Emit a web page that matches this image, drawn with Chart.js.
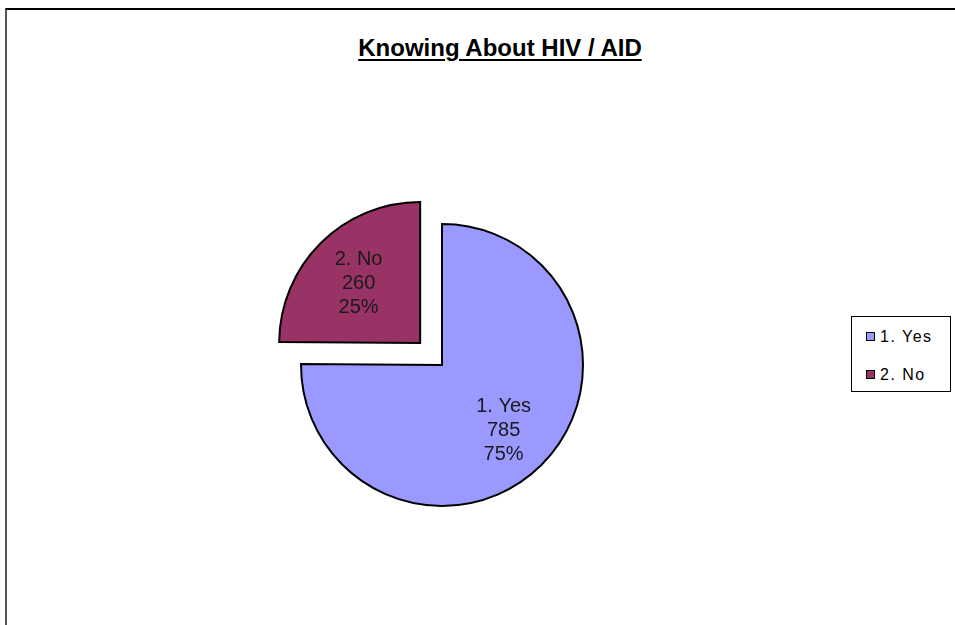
<!DOCTYPE html>
<html>
<head>
<meta charset="utf-8">
<script src="https://cdn.jsdelivr.net/npm/chart.js@4.4.1/dist/chart.umd.min.js"></script>
<style>
    html, body { margin: 0; padding: 0; background: #fff; overflow: hidden; }
    body { width: 955px; height: 625px; position: relative; font-family: "Liberation Sans", Arial, sans-serif; }
    #frame { position: absolute; left: 5px; top: 8px; width: 1000px; height: 700px;
             border-top: 2px solid #000; border-left: 2px solid #555; }
    #chartTitle { position: absolute; left: 0; width: 1000px; top: 34px; text-align: center;
                  font-weight: bold; font-size: 24px; line-height: 28px; text-decoration: underline;
                  text-underline-offset: 3px; text-decoration-thickness: 2px; color: #000; }
    #chartBox { position: absolute; left: 0; top: 0; width: 955px; height: 625px; }
    #legend { position: absolute; left: 851px; top: 316px; width: 100px; height: 76px;
              border: 1px solid #000; background: #fff; box-sizing: border-box; padding-top: 8px; }
    #legend .item { height: 38px; line-height: 24px; font-size: 16px; letter-spacing: 1.5px; color: #000;
                    padding-left: 14px; white-space: nowrap; }
    #legend .swatch { display: inline-block; width: 7px; height: 7px; border: 1px solid #000;
                      margin-right: 5px; vertical-align: 1px; }
</style>
</head>
<body>
<div id="frame"></div>
<div id="chartTitle">Knowing About HIV / AID</div>
<div id="chartBox"><canvas id="pieChart" width="955" height="625"></canvas></div>
<div id="legend"></div>

<script>
// Chart data
const categories = ['1. Yes', '2. No'];
const counts = [785, 260];
const sliceColors = ['#9999FF', '#993366'];
const sliceOffsets = [0, 124]; // "2. No" slice pulled out of the pie

// Build the html legend from the same arrays
const legendBox = document.getElementById('legend');
categories.forEach((name, i) => {
    const row = document.createElement('div');
    row.className = 'item';
    const sw = document.createElement('span');
    sw.className = 'swatch';
    sw.style.background = sliceColors[i];
    row.appendChild(sw);
    row.appendChild(document.createTextNode(name));
    legendBox.appendChild(row);
});

// Plugin drawing "label / value / percent" inside each slice
const sliceLabels = {
    id: 'sliceLabels',
    afterDatasetsDraw(chart) {
        const ctx = chart.ctx;
        const meta = chart.getDatasetMeta(0);
        const total = counts.reduce((a, b) => a + b, 0);
        ctx.save();
        ctx.font = '20px "Liberation Sans", Arial, sans-serif';
        ctx.fillStyle = '#1a1a1a';
        ctx.textAlign = 'center';
        ctx.textBaseline = 'middle';
        meta.data.forEach((arc, i) => {
            const p = arc.getProps(['x', 'y', 'startAngle', 'endAngle', 'outerRadius']);
            const mid = (p.startAngle + p.endAngle) / 2;
            const shift = (arc.options.offset || 0) / 4;
            const r = p.outerRadius * 0.62;
            const cx = p.x + Math.cos(mid) * (shift + r);
            const cy = p.y + Math.sin(mid) * (shift + r) + 3;
            const pct = Math.round(counts[i] / total * 100) + '%';
            const lines = [categories[i], String(counts[i]), pct];
            lines.forEach((t, j) => ctx.fillText(t, cx, cy + (j - 1) * 24));
        });
        ctx.restore();
    }
};

const ctx = document.getElementById('pieChart').getContext('2d');
new Chart(ctx, {
    type: 'pie',
    data: {
        labels: categories,
        datasets: [{
            data: counts,
            backgroundColor: sliceColors,
            borderColor: '#000',
            borderWidth: 2,
            borderJoinStyle: 'miter',
            offset: sliceOffsets
        }]
    },
    options: {
        responsive: false,
        animation: false,
        radius: 141,
        layout: { padding: { left: 0, right: 71, top: 105, bottom: 0 } },
        plugins: {
            legend: { display: false },
            title: { display: false },
            tooltip: { enabled: false }
        }
    },
    plugins: [sliceLabels]
});
</script>
</body>
</html>
